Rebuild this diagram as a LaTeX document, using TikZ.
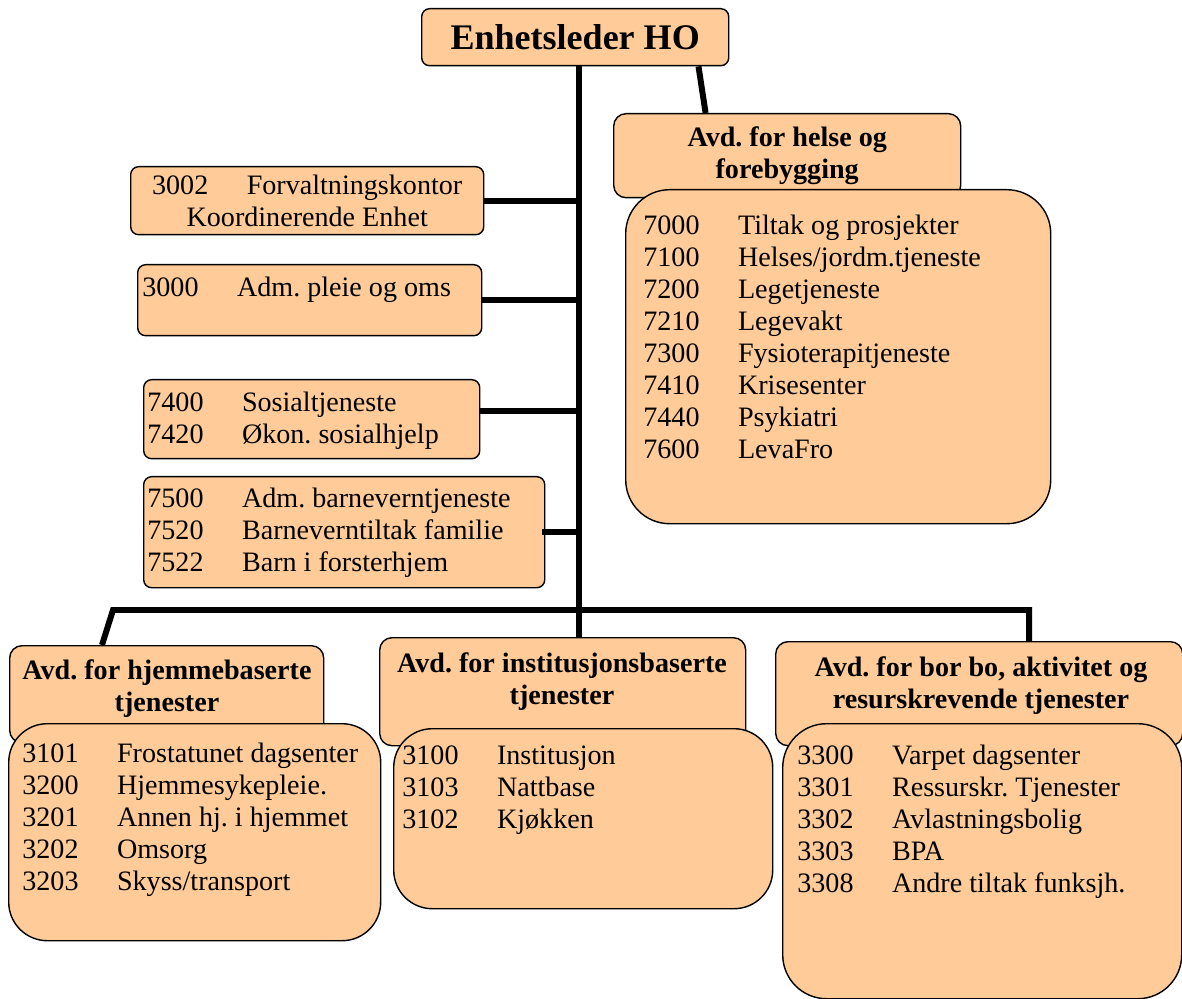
\documentclass[tikz,border=0pt]{standalone}
\usepackage{fontspec}
\setmainfont{Liberation Serif}
\frenchspacing
\definecolor{fersken}{RGB}{255,204,153}
\tikzset{
  base/.style = {draw, fill=fersken, line width=0.8pt, inner sep=0pt},
  boks/.style 2 args = {minimum width=#1*0.02cm, minimum height=#2*0.02cm, anchor=north west},
  tekst/.style = {font=\fontsize{16}{18.2}\selectfont, inner sep=0pt},
}
\newcommand{\kode}[1]{\makebox[53.9pt][l]{#1}}

\begin{document}
\begin{tikzpicture}[
            x=0.02cm, y=-0.02cm,
            enhet/.style     = {base, rounded corners=4.5pt},
            avdeling/.style  = {base, rounded corners=7pt},
            liste/.style     = {base, rounded corners=25pt},
            linje/.style     = {line width=3.4pt},
            overskrift/.style = {tekst, font=\fontsize{16}{18.2}\selectfont\bfseries, align=center},
            punkter/.style   = {tekst, align=left, anchor=north west},
        ]
        \useasboundingbox (0,0) rectangle (1182,999);

        % ledelse og helse
        \node[enhet, boks={307}{57}, font=\fontsize{20.5}{24}\selectfont\bfseries] (leder) at (421,8) {Enhetsleder HO};
        \node[avdeling, boks={347}{84}, overskrift] (helse) at (613,113) {Avd. for helse og\\forebygging};
        \node[liste, boks={425}{334}] (helseliste) at (625,189) {};
        \node[punkter] (helsetekst) at (643,215) {\kode{7000}Tiltak og prosjekter\\\kode{7100}Helses/jordm.tjeneste\\\kode{7200}Legetjeneste\\\kode{7210}Legevakt\\\kode{7300}Fysioterapitjeneste\\\kode{7410}Krisesenter\\\kode{7440}Psykiatri\\\kode{7600}LevaFro};

        % stab til venstre
        \node[enhet, boks={353}{68}, tekst, align=center] (forvaltning) at (130,166) {\kode{3002}Forvaltningskontor\\Koordinerende Enhet};
        \node[enhet, boks={344}{71}] (adm) at (137,264) {};
        \node[punkter] (admtekst) at (142,277) {\kode{3000}Adm. pleie og oms};
        \node[enhet, boks={336}{79}] (sosial) at (143,379) {};
        \node[punkter] (sosialtekst) at (147,392) {\kode{7400}Sosialtjeneste\\\kode{7420}Økon. sosialhjelp};
        \node[enhet, boks={401}{111}] (barnevern) at (143,476) {};
        \node[punkter] (barneverntekst) at (147,488) {\kode{7500}Adm. barneverntjeneste\\\kode{7520}Barneverntiltak familie\\\kode{7522}Barn i forsterhjem};

        % avdelinger nederst
        \node[avdeling, boks={314}{97}] (hjemme) at (9,645) {};
        \node[overskrift] (hjemmetittel) at (167,689) {Avd. for hjemmebaserte\\tjenester};
        \node[liste, boks={372}{217}, rounded corners=22pt] (hjemmeliste) at (8,723) {};
        \node[punkter] (hjemmetekst) at (22,743) {\kode{3101}Frostatunet dagsenter\\\kode{3200}Hjemmesykepleie.\\\kode{3201}Annen hj. i hjemmet\\\kode{3202}Omsorg\\\kode{3203}Skyss/transport};

        \node[avdeling, boks={366}{108}] (insti) at (379,637) {};
        \node[overskrift] (institittel) at (562,682) {Avd. for institusjonsbaserte\\tjenester};
        \node[liste, boks={379}{180}, rounded corners=22pt] (instiliste) at (393,728) {};
        \node[punkter] (institekst) at (402,745) {\kode{3100}Institusjon\\\kode{3103}Nattbase\\\kode{3102}Kjøkken};

        \node[avdeling, boks={407}{104}] (bor) at (775,641) {};
        \node[overskrift] (bortittel) at (981,686) {Avd. for bor bo, aktivitet og\\resurskrevende tjenester};
        \node[liste, boks={399}{275}] (borliste) at (782,723) {};
        \node[punkter] (bortekst) at (797,745) {\kode{3300}Varpet dagsenter\\\kode{3301}Ressurskr. Tjenester\\\kode{3302}Avlastningsbolig\\\kode{3303}BPA\\\kode{3308}Andre tiltak funksjh.};

        % linjer
        \coordinate (knute) at (579,610);
        \coordinate (venstre) at (113,610);
        \coordinate (hoyre) at (1029,610);
        \coordinate (hjemmeinn) at (102,645);
        \coordinate (sosialut) at ([yshift=4.5pt]sosial.east);

        \draw[linje] (leder.south -| knute) -- (knute |- insti.north);
        \draw[linje] ([xshift=-17.6pt]leder.south east) -- ([xshift=52.7pt]helse.north west);
        \draw[linje] (forvaltning.east) -- (forvaltning.east -| knute);
        \draw[linje] (adm.east) -- (adm.east -| knute);
        \draw[linje] (sosialut) -- (sosialut -| knute);
        \draw[linje] ([xshift=-2pt]barnevern.east) -- (barnevern.east -| knute);
        \draw[linje] (hjemmeinn) -- (venstre) -- (hoyre) -- (hoyre |- bor.north);

        \end{tikzpicture}
\end{document}
